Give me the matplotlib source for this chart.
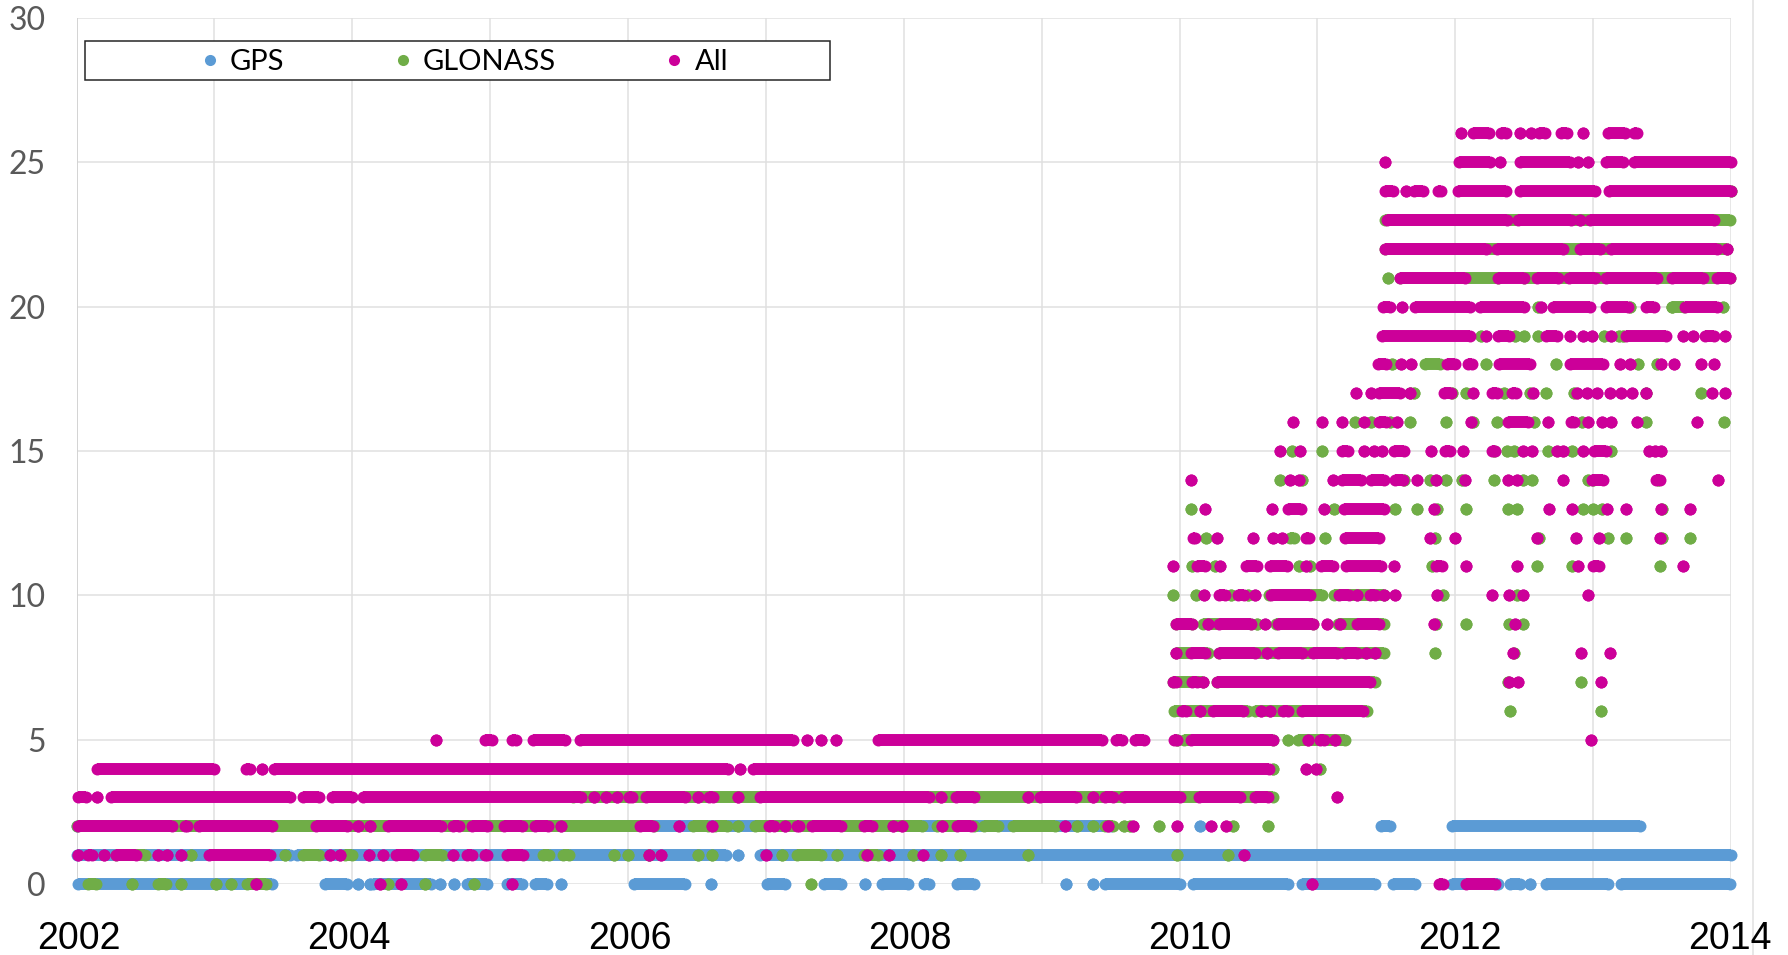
import matplotlib
matplotlib.use("Agg")
import matplotlib.pyplot as plt
from matplotlib.lines import Line2D
from matplotlib.patches import Rectangle

# Values, in decimal years, one list per series and level.
# A tuple is a contiguous run of daily points (first, last); a bare number is one isolated point.
GPS_0 = [(2002.01,2003.415),(2003.80,2003.96),2004.045,2004.13,(2004.15,2004.57),2004.64,2004.74,(2004.83,2004.98),
         (2005.12,2005.23),(2005.325,2005.41),2005.515,(2006.04,2006.415),2006.6,(2007.01,2007.14),(2007.425,2007.545),
         2007.716,(2007.845,2008.03),(2008.15,2008.185),(2008.385,2008.51),2009.18,2009.37,(2009.46,2010.0),
         (2010.095,2010.79),(2010.89,2011.42),(2011.55,2011.71),(2011.98,2012.31),(2012.4,2012.47),2012.54,
         (2012.655,2013.105),(2013.2,2013.99)]
GPS_1 = [(2002.0,2003.55),(2003.6,2006.71),2006.80,(2006.96,2014.0)]
GPS_2 = [(2002.0,2009.5),2010.15,(2011.46,2011.53),(2011.98,2013.34)]

GLONASS_0 = [(2002.08,2002.14),2002.4,(2002.59,2002.65),2002.76,2003.01,2003.12,(2003.235,2003.375),2004.26,2004.53,
             2004.88,2007.33]
GLONASS_1 = [(2002.29,2002.5),2002.83,2003.51,(2003.64,2003.76),(2003.95,2004.0),(2004.525,2004.65),(2005.385,2005.43),
             (2005.53,2005.575),2005.90,2006.0,2006.15,2006.51,2006.606,2007.117,(2007.225,2007.40),2007.516,
             (2007.71,2007.815),2008.07,2008.27,2008.405,2008.90,2009.985,2010.35]
GLONASS_2 = [(2002.0,2006.19),(2006.47,2006.58),(2006.63,2006.72),2006.80,(2006.92,2008.135),(2008.24,2008.51),
             (2008.585,2008.68),(2008.79,2009.10),2009.26,2009.37,(2009.46,2009.515),2009.6,2009.64,2009.85,
             2010.39,2010.645]
GLONASS_3 = [(2005.6,2010.68)]
GLONASS_4 = [2010.68,2011.02]
GLONASS_5 = [2009.98,(2010.03,2010.68),2010.79,(2010.86,2011.20)]
GLONASS_6 = [(2009.96,2010.5),(2010.55,2011.36),2012.40,2013.06]
GLONASS_7 = [(2009.955,2010.17),(2010.27,2011.42),2012.38,2012.91]
GLONASS_8 = [(2009.975,2010.21),(2010.29,2011.485),2011.85,2012.425]
GLONASS_9 = [(2009.975,2010.09),(2010.17,2010.52),2010.56,(2010.7,2010.97),(2011.15,2011.48),2011.86,2012.08,2012.39,2012.49]
GLONASS_10 = [2009.95,2010.12,2010.37,2010.5,(2010.65,2011.03),(2011.12,2011.48),2011.91,2012.45]
GLONASS_11 = [2010.09,2010.26,2010.87,2010.95,2011.83,2012.595,2012.85,2013.485]
GLONASS_12 = [2010.19,(2010.80,2010.83),2011.055,2011.85,2012.61,2013.11,2013.24,2013.5,2013.70]
GLONASS_13 = [2010.085,2011.12,2011.56,2011.72,2011.87,2012.077,2012.385,2012.45,2012.93,2013.0,2013.065,2013.5]
GLONASS_14 = [2010.726,2010.885,2011.63,2011.82,2011.93,2012.05,2012.28,2012.49,2012.56,2012.965,2013.0,2013.47]
GLONASS_15 = [2010.815,2011.03,2012.28,2012.375,2012.425,2012.675,2012.85,2013.13]
GLONASS_16 = [2011.275,2011.39,2011.525,2011.67,2011.93,2012.13,2012.30,2012.57,2012.92,2013.385,2013.95]
GLONASS_17 = [2011.67,2011.70,2011.98,2012.08,2012.355,2012.54,2012.66,2012.86,2013.785,2013.38]
GLONASS_18 = [2011.54,(2011.78,2011.89),2012.22,2012.73,2013.325,2013.46]
GLONASS_19 = [2012.19,2012.43,2012.50,2012.60,2013.08,2013.19,2013.22]
GLONASS_20 = [2012.60,2013.27,2013.57,(2013.57,2013.66),2013.94]
GLONASS_21 = [2011.51,(2011.60,2012.31),(2012.5,2013.995)]
GLONASS_22 = [(2011.49,2013.97)]
GLONASS_23 = [(2011.49,2013.995)]
GLONASS_24 = [2014.0]

ALL_0 = [2003.30,2004.2,2004.355,2005.16,2010.96,(2011.885,2011.91),(2012.08,2012.29)]
ALL_1 = [2002.01,(2002.08,2002.11),2002.2,(2002.29,2002.435),2002.59,2002.66,2002.76,(2002.96,2003.40),2003.835,2003.91,
         2004.12,2004.225,(2004.32,2004.44),2004.73,(2004.83,2004.87),(2004.96,2004.98),(2005.12,2005.24),
         2006.15,2006.24,2007.0,2007.73,2007.89,2008.14,2010.47]
ALL_2 = [(2002.01,2002.69),(2002.785,2002.805),(2002.89,2003.415),(2003.74,2003.96),2004.045,2004.13,(2004.26,2004.645),
         (2004.73,2004.775),(2004.87,2004.98),(2005.10,2005.23),(2005.325,2005.42),2005.515,(2006.09,2006.18),2006.37,
         2006.606,(2007.02,2007.06),2007.14,(2007.225,2007.24),(2007.335,2007.545),(2007.71,2007.77),2007.92,2007.99,
         2008.275,(2008.385,2008.49),2009.17,2009.48,2009.66,2009.985,2010.225,2010.34]
ALL_3 = [(2002.01,2002.07),2002.15,(2002.25,2003.55),(2003.64,2003.76),(2003.85,2004.0),(2004.08,2005.66),2005.755,
         2005.84,2005.92,(2006.01,2006.03),(2006.13,2006.41),2006.51,(2006.59,2006.615),2006.80,(2006.96,2008.18),
         2008.27,(2008.38,2008.51),2008.90,(2008.99,2009.25),2009.37,(2009.46,2009.515),(2009.60,2010.0),
         (2010.14,2010.44),(2010.55,2010.64),2011.145]
ALL_4 = [(2002.147,2003.0),(2003.227,2003.255),2003.346,(2003.43,2006.726),2006.81,(2006.909,2010.65),2010.92,2010.99]
ALL_5 = [2004.61,(2004.96,2005.01),(2005.16,2005.19),(2005.31,2005.54),(2005.65,2007.198),2007.30,2007.40,2007.505,
         (2007.81,2009.44),(2009.537,2009.585),(2009.676,2009.743),(2009.96,2009.98),(2010.08,2010.68),2010.93,
         (2011.02,2011.05),2011.13,2012.985]
ALL_6 = [(2010.02,2010.045),2010.15,(2010.24,2010.46),2010.59,2010.66,(2010.75,2010.79),(2010.89,2011.33)]
ALL_7 = [(2009.955,2009.975),(2010.09,2010.125),2010.17,(2010.27,2011.38),2012.39,2012.455,2013.055]
ALL_8 = [2009.975,(2010.08,2010.185),(2010.29,2010.55),2010.635,(2010.715,2010.89),(2010.965,2011.14),(2011.2,2011.29),
         2011.355,2011.42,2012.42,2012.91,2013.125]
ALL_9 = [(2009.975,2010.09),2010.205,(2010.29,2010.52),2010.62,(2010.715,2010.965),2011.07,2011.165,(2011.29,2011.45),
         2011.845,2012.435]
ALL_10 = [2010.175,(2010.285,2010.33),(2010.425,2010.465),2010.55,(2010.665,2010.95),(2011.155,2011.23),2011.285,
          (2011.38,2011.415),2011.48,2011.56,2011.865,2012.27,2012.39,2012.49,2012.96]
ALL_11 = [2009.95,(2010.125,2010.185),2010.295,(2010.485,2010.565),(2010.66,2010.78),2010.92,(2011.025,2011.115),
          (2011.205,2011.465),2011.555,(2011.86,2011.905),2012.08,2012.45,2012.89,(2013.0,2013.045),2013.655]
ALL_12 = [(2010.095,2010.115),2010.275,2010.53,2010.675,2010.745,(2010.915,2010.94),(2011.2,2011.45),2011.82,2012.0,
          2012.595,2012.875,2013.045,2013.485]
ALL_13 = [2010.186,2010.67,(2010.79,2010.88),2011.05,(2011.195,2011.48),2011.845,2012.68,2012.85,2013.10,2013.24,
          2013.495,2013.70]
ALL_14 = [2010.085,2010.80,2010.87,2011.115,(2011.18,2011.32),(2011.39,2011.48),(2011.565,2011.62),2011.72,2011.86,
          2012.07,2012.385,2012.45,2012.785,(2012.995,2013.075),(2013.455,2013.485),2013.905]
ALL_15 = [2010.726,2010.877,(2011.18,2011.225),2011.34,2011.41,2011.47,(2011.555,2011.63),2011.825,(2011.925,2011.96),
          2012.055,(2012.265,2012.285),2012.49,2012.56,2012.735,2012.785,2012.925,(2013.005,2013.09),2013.405,2013.45,2013.495]
ALL_16 = [2010.82,2011.03,2011.18,2011.34,(2011.45,2011.50),2011.575,2012.115,(2012.38,2012.53),2012.675,(2012.84,2012.86),
          2012.965,2013.065,2013.127,2013.315,2013.75]
ALL_17 = [2011.28,2011.39,(2011.45,2011.60),2011.67,(2011.92,2011.97),2012.13,(2012.27,2012.30),(2012.415,2012.44),
          2012.565,2012.88,2012.955,2013.03,2013.12,2013.205,2013.28,2013.38,2013.86,2013.955]
ALL_18 = [(2011.44,2011.50),2011.61,2011.68,(2011.94,2012.0),(2012.09,2012.125),(2012.32,2012.54),(2012.83,2013.075),
          2013.195,2013.265,2013.495,2013.585,2013.785,2013.88]
ALL_19 = [(2011.47,2012.105),2012.22,(2012.31,2012.39),(2012.66,2012.735),2012.83,2012.925,2012.995,2013.127,
          (2013.236,2013.53),2013.65,2013.725,(2013.81,2013.88),2013.955]
ALL_20 = [(2011.476,2011.53),2011.617,(2011.706,2012.105),(2012.177,2012.50),2012.62,(2012.71,2012.975),(2013.096,2013.25),
          (2013.385,2013.445),(2013.665,2013.895)]
ALL_21 = [(2011.60,2012.07),(2012.31,2012.50),(2012.59,2012.745),(2012.825,2013.01),(2013.096,2013.46),(2013.57,2013.80),
          (2013.895,2013.995)]
ALL_22 = [(2011.49,2012.225),(2012.30,2012.78),(2012.905,2013.05),(2013.13,2013.895),2013.97]
ALL_23 = [(2011.505,2012.375),(2012.458,2012.84),2012.905,(2012.975,2013.88)]
ALL_24 = [(2011.49,2011.545),2011.64,(2011.70,2011.766),(2011.875,2011.90),(2012.02,2012.365),(2012.47,2013.01),(2013.115,2014.0)]
ALL_25 = [2011.49,(2012.025,2012.25),2012.327,(2012.47,2012.83),2012.89,2012.96,(2013.096,2013.217),(2013.30,2014.0)]
ALL_26 = [2012.04,(2012.13,2012.245),(2012.33,2012.365),2012.47,2012.55,(2012.608,2012.65),(2012.77,2012.81),2012.93,
          (2013.108,2013.23),(2013.295,2013.32)]

GPS_LEVELS = [GPS_0, GPS_1, GPS_2]
GLONASS_LEVELS = [GLONASS_0, GLONASS_1, GLONASS_2, GLONASS_3, GLONASS_4, GLONASS_5, GLONASS_6, GLONASS_7, GLONASS_8,
                  GLONASS_9, GLONASS_10, GLONASS_11, GLONASS_12, GLONASS_13, GLONASS_14, GLONASS_15, GLONASS_16,
                  GLONASS_17, GLONASS_18, GLONASS_19, GLONASS_20, GLONASS_21, GLONASS_22, GLONASS_23, GLONASS_24]
ALL_LEVELS = [ALL_0, ALL_1, ALL_2, ALL_3, ALL_4, ALL_5, ALL_6, ALL_7, ALL_8, ALL_9, ALL_10, ALL_11, ALL_12, ALL_13,
              ALL_14, ALL_15, ALL_16, ALL_17, ALL_18, ALL_19, ALL_20, ALL_21, ALL_22, ALL_23, ALL_24, ALL_25, ALL_26]

SERIES = ["GPS", "GLONASS", "All"]
COLORS = ["#5B9BD5", "#70AD47", "#CC0099"]
Y_TICKS = [0, 5, 10, 15, 20, 25, 30]
YEAR_GRID = list(range(2002, 2015))
YEAR_LABELS = ["2002", "2004", "2006", "2008", "2010", "2012", "2014"]
YEAR_LABEL_PX = [79, 349, 630, 910, 1190, 1460, 1730]

W, H = 1788, 955
L, R, T, B = 76.5, 1731.0, 18.0, 884.0
MS = 8.6
GRID = "#E0E0E0"

fig = plt.figure(figsize=(W / 100, H / 100), dpi=100, facecolor="white")
ax = fig.add_axes([L / W, 1 - B / H, (R - L) / W, (B - T) / H])
ax.set_xlim(2002, 2014)
ax.set_ylim(0, 30)
for s in ax.spines.values():
    s.set_visible(False)
ax.set_xticks(YEAR_GRID)
ax.set_yticks(Y_TICKS)
ax.tick_params(length=0)
ax.set_xticklabels([])
ax.set_yticklabels([str(v) for v in Y_TICKS], family="Lato", fontsize=23, color="#595959")
ax.tick_params(axis="y", pad=22)
ax.grid(True, color=GRID, lw=1.1, zorder=0)
ax.set_axisbelow(True)
ax.axvline(2002, color="#CFCFCF", lw=1.1, zorder=1)


def draw(levels, color, z):
    for level, runs in enumerate(levels):
        for run in runs:
            a, b = run if isinstance(run, tuple) else (run, run)
            ax.plot([a, b], [level, level], "-o", color=color, lw=MS, ms=MS, mew=0,
                    solid_capstyle="butt", clip_on=False, zorder=z)


draw(GPS_LEVELS, COLORS[0], 3)
draw(GLONASS_LEVELS, COLORS[1], 4)
draw(ALL_LEVELS, COLORS[2], 5)

fig.add_artist(Line2D([1753 / W, 1753 / W], [1, 0], transform=fig.transFigure, color=GRID, lw=1.1, zorder=0))
for txt, px in zip(YEAR_LABELS, YEAR_LABEL_PX):
    fig.text(px / W, 1 - 939 / H, txt, family="Liberation Sans", fontsize=27, color="black", ha="center", va="center")

fig.add_artist(Rectangle((84.5 / W, 1 - 80 / H), 745 / W, 39 / H, transform=fig.transFigure,
                         fc="white", ec="#262626", lw=1.1, zorder=6))
handles = [Line2D([], [], ls="", marker="o", ms=8, mew=0, color=c) for c in COLORS]
leg = fig.legend(handles, SERIES, ncol=3, frameon=False, loc="center left",
                 bbox_to_anchor=(198 / W, 1 - 62 / H), bbox_transform=fig.transFigure,
                 prop={"family": "Lato", "size": 21}, handlelength=0.8, handletextpad=0.3,
                 columnspacing=3.65, borderpad=0, borderaxespad=0)
leg.set_zorder(7)

fig.savefig("out.png", dpi=100, facecolor="white")
